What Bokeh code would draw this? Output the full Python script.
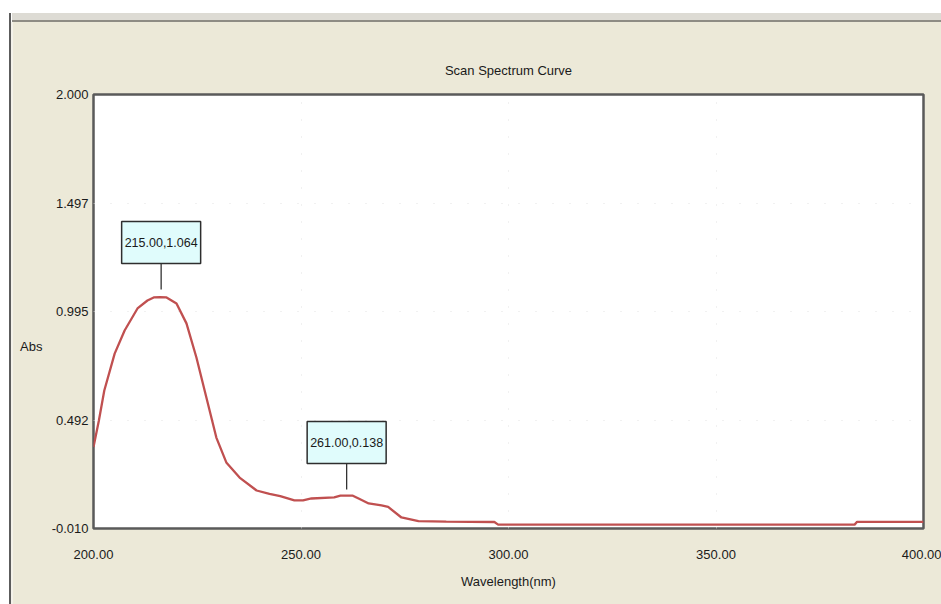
from bokeh.plotting import figure
from bokeh.models import Range1d, FixedTicker, NumeralTickFormatter, Div, Title
from bokeh.layouts import column, row
from bokeh.core.properties import value
from bokeh.embed import file_html
from bokeh.resources import INLINE

# ---- data ----
wavelength = [200.0, 201.3, 202.6, 205.1, 207.5, 210.6, 213.0, 214.5, 216.0, 217.6, 220.0,
              222.4, 224.8, 227.2, 229.6, 232.0, 235.2, 239.3, 242.4, 245.0, 248.4, 250.5,
              252.5, 258.0, 259.5, 262.5, 264.0, 266.3, 269.4, 271.0, 274.2, 278.3, 285.0,
              296.6, 297.5, 340.0, 383.4, 384.0, 400.0]
absorbance = [0.367, 0.49, 0.629, 0.800, 0.907, 1.009, 1.046, 1.060, 1.062, 1.060, 1.032,
              0.940, 0.782, 0.597, 0.411, 0.296, 0.226, 0.166, 0.150, 0.140, 0.120, 0.120,
              0.129, 0.134, 0.142, 0.142, 0.128, 0.106, 0.097, 0.090, 0.041, 0.024, 0.022,
              0.020, 0.008, 0.008, 0.008, 0.021, 0.021]

peak_wavelength = [215.0, 261.0]
peak_absorbance = [1.064, 0.138]
marker_wavelength = [216.3, 261.0]
peak_labels = [f"{w:.2f},{a:.3f}" for w, a in zip(peak_wavelength, peak_absorbance)]

x_ticks = [200, 250, 300, 350, 400]
y_ticks = [-0.010, 0.492, 0.995, 1.497, 2.000]
title_text = "Scan Spectrum Curve"
x_label = "Wavelength(nm)"
y_label = "Abs"

# ---- style ----
FONT = "Liberation Sans"
FS = "13px"
INK = "#1a1a1a"
BEIGE = "#ece9d8"
CURVE = "#c05050"
FRAME_H = 434
Y_MIN, Y_MAX = -0.010, 2.000
UPX = (Y_MAX - Y_MIN) / FRAME_H   # data units per pixel (vertical)

p = figure(width=893, height=582, output_backend="svg", toolbar_location=None,
           x_range=Range1d(200, 400), y_range=Range1d(Y_MIN, Y_MAX),
           min_border_left=44, min_border_right=18, min_border_top=72, min_border_bottom=76,
           margin=0)
p.border_fill_color = BEIGE
p.background_fill_color = "white"
p.outline_line_color = "#5a5a5a"
p.outline_line_width = 2.5

p.title = Title(text=title_text, align="center", text_font=FONT, text_font_size=FS,
                text_font_style="normal", text_color=INK, standoff=34)

# axes
p.xaxis.ticker = FixedTicker(ticks=x_ticks)
p.xaxis.formatter = NumeralTickFormatter(format="0.00")
p.yaxis.ticker = FixedTicker(ticks=y_ticks)
p.yaxis.formatter = NumeralTickFormatter(format="0.000")
for ax in (p.xaxis, p.yaxis):
    ax.axis_line_color = None
    ax.major_tick_line_color = None
    ax.minor_tick_line_color = None
    ax.major_tick_out = 0
    ax.major_tick_in = 0
    ax.major_label_text_font = FONT
    ax.major_label_text_font_size = FS
    ax.major_label_text_color = INK
p.xaxis.major_label_standoff = 21
p.yaxis.major_label_standoff = 5
p.xaxis.axis_label = x_label
p.xaxis.axis_label_text_font = FONT
p.xaxis.axis_label_text_font_size = FS
p.xaxis.axis_label_text_font_style = "normal"
p.xaxis.axis_label_text_color = INK
p.xaxis.axis_label_standoff = 12

p.xgrid.grid_line_color = "#e2e2e2"
p.ygrid.grid_line_color = "#e2e2e2"
p.xgrid.grid_line_dash = "1 16"
p.ygrid.grid_line_dash = "1 16"

# curve
p.line(wavelength, absorbance, line_color=CURVE, line_width=2.3)

# callouts
mx = marker_wavelength
p.segment(x0=mx, y0=[a + 7 * UPX for a in peak_absorbance],
          x1=mx, y1=[a + 33 * UPX for a in peak_absorbance],
          line_color="#333333", line_width=1.3)
box_y = [a + 54 * UPX for a in peak_absorbance]
p.rect(x=mx, y=box_y, width=79, height=42, width_units="screen", height_units="screen",
       fill_color="#e0fcfc", line_color="#2e2e2e", line_width=1.5)
p.text(x=mx, y=box_y, text=peak_labels, text_align="center", text_baseline="middle",
       text_font=value(FONT), text_font_size="12.5px", text_color=INK)

# window chrome + the horizontal "Abs" label
top_bar = Div(width=941, height=22, margin=0, text="", styles={
    "background": "linear-gradient(to right, #ffffff 0px, #ffffff 9.5px, #5c5c5c 9.5px, "
                  "#5c5c5c 11.5px, #ffffff 11.5px, #ffffff 12.5px, rgba(0,0,0,0) 12.5px) "
                  "0px 13px / 100% 9px no-repeat, "
                  "linear-gradient(to bottom, #ffffff 0px, #ffffff 13px, #dddbd4 13px, "
                  "#dddbd4 20px, #8e8c84 20px, #8e8c84 22px)"})
left_bar = Div(width=48, height=582, margin=0,
               text=f'<div style="margin-top:317px;margin-left:20px;line-height:16px;'
                    f'font-family:\'{FONT}\';font-size:{FS};color:{INK}">{y_label}</div>',
               styles={"background": "linear-gradient(to right, #ffffff 0px, #ffffff 9.5px, "
                                     "#5c5c5c 9.5px, #5c5c5c 11.5px, #f4f2ea 11.5px, "
                                     f"#f4f2ea 13px, {BEIGE} 13px)"})

body_row = row(left_bar, p, spacing=0, margin=0,
               styles={"background": BEIGE})
layout = column(top_bar, body_row, spacing=0, margin=0)

open("out.html", "w").write(file_html(layout, INLINE))
